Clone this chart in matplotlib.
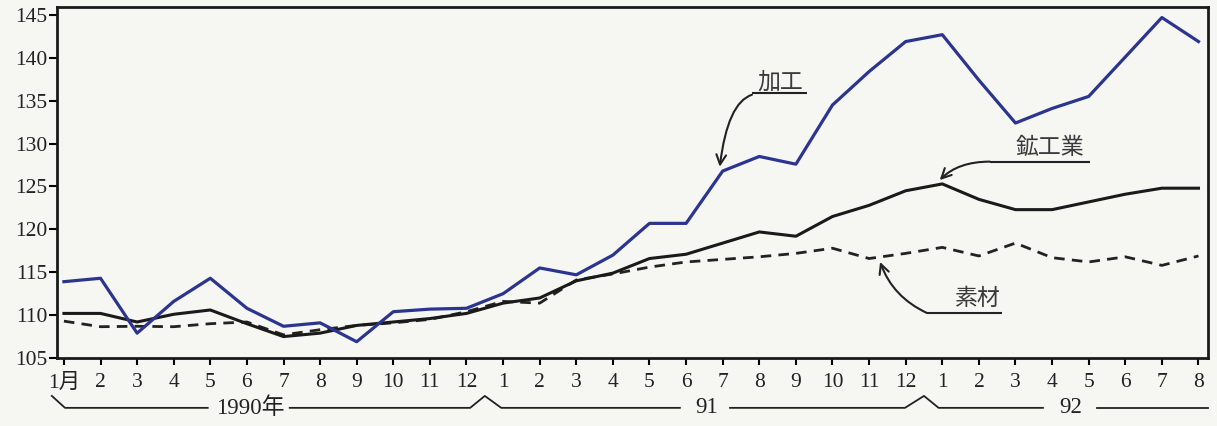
import matplotlib
matplotlib.use("Agg")
import matplotlib.pyplot as plt
from matplotlib.patches import FancyArrowPatch
import matplotlib.transforms as mtransforms

# ---- data ----
month_labels = ["1月", "2", "3", "4", "5", "6", "7", "8", "9", "10", "11", "12",
                "1", "2", "3", "4", "5", "6", "7", "8", "9", "10", "11", "12",
                "1", "2", "3", "4", "5", "6", "7", "8"]
kakou = [113.9, 114.3, 107.9, 111.6, 114.3, 110.8, 108.7, 109.1, 106.9, 110.4, 110.7, 110.8,
         112.5, 115.5, 114.7, 117.0, 120.7, 120.7, 126.8, 128.5, 127.6, 134.5, 138.4, 141.9,
         142.7, 137.4, 132.4, 134.1, 135.5, 140.1, 144.7, 141.9]
koukougyou = [110.2, 110.2, 109.2, 110.1, 110.6, 109.0, 107.5, 107.9, 108.8, 109.2, 109.6, 110.2,
              111.4, 112.0, 114.0, 114.9, 116.6, 117.1, 118.4, 119.7, 119.2, 121.5, 122.8, 124.5,
              125.3, 123.5, 122.3, 122.3, 123.2, 124.1, 124.8, 124.8]
sozai = [109.3, 108.65, 108.7, 108.65, 109.0, 109.2, 107.7, 108.3, 108.8, 109.1, 109.5, 110.4,
         111.6, 111.4, 114.1, 114.8, 115.6, 116.2, 116.5, 116.8, 117.2, 117.8, 116.6, 117.2,
         117.9, 116.9, 118.4, 116.7, 116.2, 116.8, 115.8, 116.9]
y_ticks = [105, 110, 115, 120, 125, 130, 135, 140, 145]
year_labels = ["1990年", "91", "92"]

x = list(range(len(month_labels)))
bg = "#f6f6f3"
serif_cjk = ["Liberation Serif", "Noto Sans CJK JP"]

fig = plt.figure(figsize=(12.17, 4.26), dpi=100, facecolor=bg)
ax = fig.add_axes([0.0468, 0.1596, 0.9458, 0.824])
ax.set_facecolor(bg)

ax.plot(x, sozai, color="#222222", lw=2.0, ls=(0, (3.8, 2.6)), zorder=2)
ax.plot(x, koukougyou, color="#1a1a1a", lw=2.2, zorder=3)
ax.plot(x, kakou, color="#2b3590", lw=2.3, zorder=4)

ax.set_xlim(-0.19, 31.26)
ax.set_ylim(105, 145.93)
ax.set_yticks(y_ticks)
ax.set_yticklabels([str(v) for v in y_ticks], fontsize=15.5, family=serif_cjk, color="#222222")
ax.set_xticks(x)
ax.set_xticklabels(month_labels, fontsize=15.5, family=serif_cjk, color="#222222")
ax.tick_params(axis="y", direction="out", length=6, width=1.5, pad=1)
ax.tick_params(axis="x", direction="out", length=5, width=1.5, pad=6)
for s in ax.spines.values():
    s.set_linewidth(2.0)
    s.set_color("#1a1a1a")

# ---- annotations ----
txt_kw = dict(fontsize=16.5, family=["Noto Sans CJK JP"], color="#3a3a3a", ha="center", va="center")

def label(text, tx, ty, ux0, ux1, uy, start, target, angA, angB):
    ax.text(tx, ty, text, **txt_kw)
    ax.plot([ux0, ux1], [uy, uy], color="#222222", lw=1.5, solid_capstyle="butt")
    arr = FancyArrowPatch(start, target,
                          connectionstyle=f"angle3,angleA={angA},angleB={angB}",
                          arrowstyle="->,head_length=7,head_width=3.5", color="#222222",
                          lw=1.5, shrinkA=0, shrinkB=0, zorder=5)
    ax.add_patch(arr)

label("加工", 19.56, 137.2, 18.8, 20.3, 135.9, (18.8, 135.7),
      (17.92, kakou[18] + 0.5), 18, 83)
label("鉱工業", 26.94, 129.6, 25.3, 28.03, 127.9, (25.3, 127.9),
      (23.93, koukougyou[24] + 0.45), 0, 45)
label("素材", 24.95, 111.9, 23.58, 25.63, 110.25, (23.58, 110.25),
      (22.3, sozai[22] - 0.4), -25, 110)

# ---- year brackets below the axis ----
trans = mtransforms.blended_transform_factory(ax.transData, ax.transAxes)
yb, yp = -0.142, -0.108
lk = dict(color="#222222", lw=1.3, transform=trans, clip_on=False)
ax.plot([-0.33, 0.03, 3.93], [yp, yb, yb], **lk)
ax.plot([6.17, 11.1, 11.5, 11.95, 16.83], [yb, yb, yp, yb, yb], **lk)
ax.plot([18.2, 22.98, 23.5, 23.9, 26.75], [yb, yb, yp, yb, yb], **lk)
ax.plot([28.22, 31.26], [yb, yb], **lk)
ykw = dict(fontsize=16.5, family=serif_cjk, color="#222222", ha="center", va="center",
           transform=trans, clip_on=False)
ax.text(5.1, yb, year_labels[0], **ykw)
ax.text(17.55, yb, year_labels[1], **ykw)
ax.text(27.5, yb, year_labels[2], **ykw)

fig.savefig("out.png", dpi=100, facecolor=bg)
